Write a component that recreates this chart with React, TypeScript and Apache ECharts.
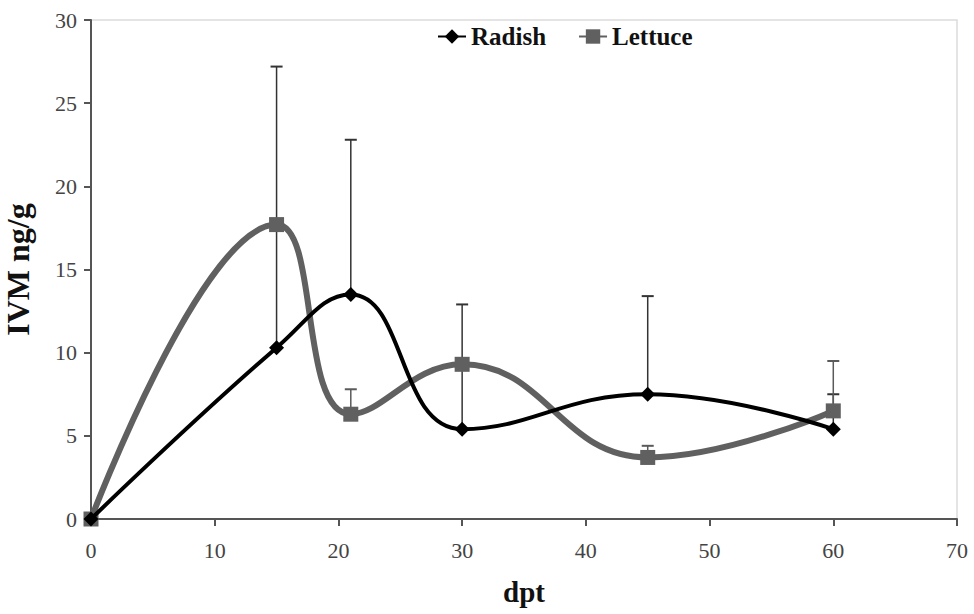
import React, { useEffect, useRef } from "react";
import * as echarts from "echarts";

const days = [0, 15, 21, 30, 45, 60];
const radish = [0, 10.3, 13.5, 5.4, 7.5, 5.4];
const lettuce = [0, 17.7, 6.3, 9.3, 3.7, 6.5];
// upper ends of the error bars (null = none)
const radishErrTop = [null, 27.2, 22.8, 12.9, 13.4, 7.5];
const lettuceErrTop = [null, null, 7.8, null, 4.4, 9.5];
const xTicks = [0, 10, 20, 30, 40, 50, 60, 70];
const yTicks = [0, 5, 10, 15, 20, 25, 30];

const FONT = "Liberation Serif";

function errData(vals: number[], tops: (number | null)[]) {
  const out: number[][] = [];
  days.forEach((d, i) => {
    const t = tops[i];
    if (t != null) out.push([d, vals[i], t]);
  });
  return out;
}

function errSeries(name: string, data: number[][], color: string) {
  return {
    type: "custom",
    name: name + "-err",
    data,
    z: 1,
    silent: true,
    renderItem: (params: any, api: any) => {
      const x = api.value(0);
      const lo = api.coord([x, api.value(1)]);
      const hi = api.coord([x, api.value(2)]);
      const style = { stroke: color, lineWidth: 1.5 };
      return {
        type: "group",
        children: [
          { type: "line", shape: { x1: lo[0], y1: lo[1], x2: hi[0], y2: hi[1] }, style },
          { type: "line", shape: { x1: hi[0] - 6, y1: hi[1], x2: hi[0] + 6, y2: hi[1] }, style: { stroke: color, lineWidth: 2 } },
        ],
      };
    },
  };
}

export default function App() {
  const ref = useRef<HTMLDivElement>(null);
  useEffect(() => {
    if (!ref.current) return;
    const chart = echarts.init(ref.current, undefined, { renderer: "svg" });
    chart.setOption({
      animation: false,
      backgroundColor: "#fff",
      textStyle: { fontFamily: FONT },
      grid: {
        left: 91,
        right: 17,
        top: 20,
        bottom: 95,
        containLabel: false,
        outerBoundsMode: "none",
        show: true,
        borderColor: "#dcdcdc",
        borderWidth: 1.5,
      },
      legend: {
        data: ["Radish", "Lettuce"],
        left: 432,
        top: 19,
        itemGap: 32,
        itemWidth: 28,
        itemHeight: 18,
        textStyle: { fontFamily: FONT, fontWeight: "bold", fontSize: 25, color: "#111" },
      },
      xAxis: {
        type: "value",
        min: 0,
        max: 70,
        interval: 10,
        name: "dpt",
        nameLocation: "middle",
        nameGap: 58,
        nameTextStyle: { fontFamily: FONT, fontWeight: "bold", fontSize: 29, color: "#111" },
        axisLine: { lineStyle: { color: "#555", width: 2 } },
        axisTick: { show: true, length: 7, lineStyle: { color: "#555", width: 2 } },
        axisLabel: {
          fontFamily: FONT,
          fontSize: 22,
          color: "#444",
          margin: 20,
          formatter: (v: number) => (xTicks.includes(v) ? String(v) : ""),
        },
        splitLine: { show: false },
      },
      yAxis: {
        type: "value",
        min: 0,
        max: 30,
        interval: 5,
        name: "IVM ng/g",
        nameLocation: "middle",
        nameGap: 57,
        nameRotate: 90,
        nameTextStyle: { fontFamily: FONT, fontWeight: "bold", fontSize: 32, color: "#111" },
        axisLine: { show: true, lineStyle: { color: "#555", width: 2 } },
        axisTick: { show: true, length: 7, lineStyle: { color: "#555", width: 2 } },
        axisLabel: {
          fontFamily: FONT,
          fontSize: 22,
          color: "#444",
          margin: 14,
          formatter: (v: number) => (yTicks.includes(v) ? String(v) : ""),
        },
        splitLine: { show: false },
      },
      series: [
        errSeries("Radish", errData(radish, radishErrTop), "#333"),
        errSeries("Lettuce", errData(lettuce, lettuceErrTop), "#5a5a5a"),
        {
          name: "Lettuce",
          type: "line",
          data: days.map((d, i) => [d, lettuce[i]]),
          smooth: 0.45,
          symbol: "rect",
          symbolSize: 15,
          z: 3,
          lineStyle: { color: "#606060", width: 6 },
          itemStyle: { color: "#606060" },
        },
        {
          name: "Radish",
          type: "line",
          data: days.map((d, i) => [d, radish[i]]),
          smooth: 0.45,
          symbol: "diamond",
          symbolSize: 15,
          z: 4,
          lineStyle: { color: "#000", width: 4 },
          itemStyle: { color: "#000" },
        },
      ],
    });
    return () => chart.dispose();
  }, []);
  return <div ref={ref} style={{ width: 974, height: 614, position: "absolute", left: 0, top: 0 }} />;
}
